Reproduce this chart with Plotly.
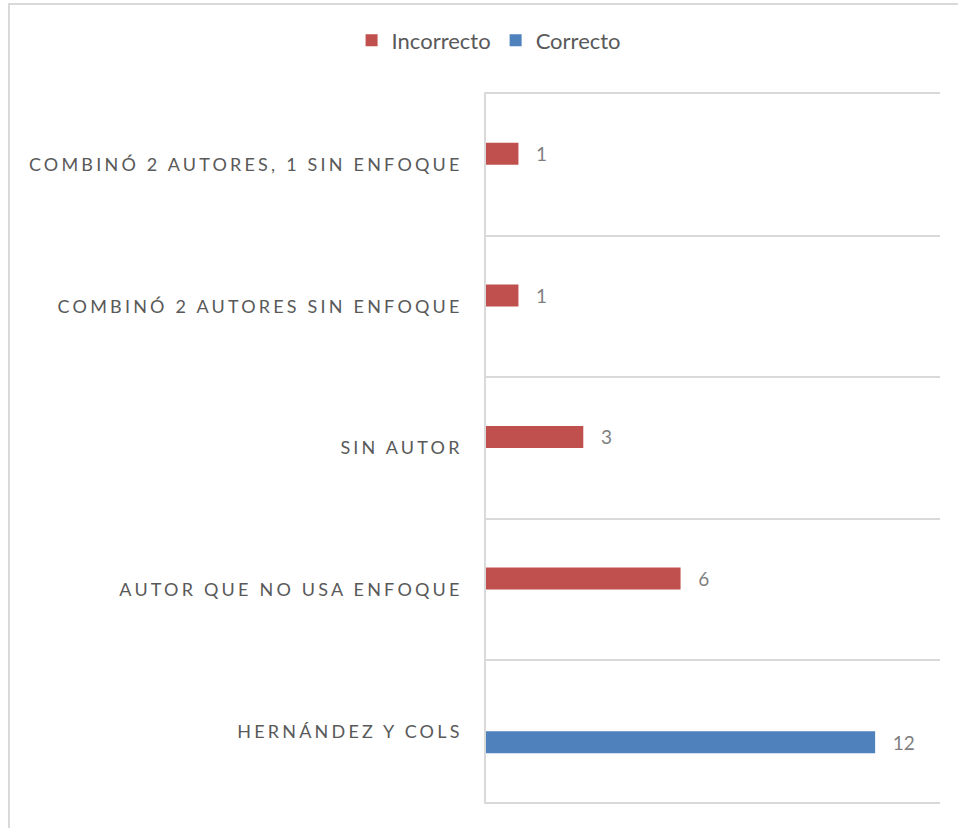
import plotly.graph_objects as go

# categories listed top to bottom, as in the chart
categorias = [
    "COMBINÓ 2 AUTORES, 1 SIN ENFOQUE",
    "COMBINÓ 2 AUTORES SIN ENFOQUE",
    "SIN AUTOR",
    "AUTOR QUE NO USA ENFOQUE",
    "HERNÁNDEZ Y COLS",
]
incorrecto = [1, 1, 3, 6, None]
correcto = [None, None, None, None, 12]

GRIS = "#595959"
LINEA = "#d9d9d9"
FUENTE = "Lato"

fig = go.Figure()
fig.add_trace(go.Bar(
    name="Incorrecto", y=categorias, x=incorrecto, orientation="h",
    marker=dict(color="#c0504d", line=dict(width=0)),
    texttemplate="\u00a0\u00a0\u00a0%{x}", textposition="outside",
    constraintext="none", cliponaxis=False,
    textfont=dict(family=FUENTE, size=19, color="#7f7f7f"),
    hoverinfo="skip",
))
fig.add_trace(go.Bar(
    name="Correcto", y=categorias, x=correcto, orientation="h",
    marker=dict(color="#4f81bd", line=dict(width=0)),
    texttemplate="\u00a0\u00a0\u00a0%{x}", textposition="outside",
    constraintext="none", cliponaxis=False,
    textfont=dict(family=FUENTE, size=19, color="#7f7f7f"),
    hoverinfo="skip",
))

fig.update_layout(
    width=958, height=828,
    paper_bgcolor="white", plot_bgcolor="white",
    margin=dict(l=486, r=18, t=94, b=26),
    barmode="group", bargap=0.689, bargroupgap=0,
    font=dict(family=FUENTE, color=GRIS),
    legend=dict(
        orientation="h", xref="container", yref="container",
        x=0.51, xanchor="center", y=0.951, yanchor="middle",
        font=dict(family=FUENTE, size=22, color=GRIS),
    ),
    xaxis=dict(
        range=[0, 14], showgrid=False, showticklabels=False, zeroline=False,
        showline=True, linecolor=LINEA, linewidth=1.5, mirror=True, ticks="",
    ),
    yaxis=dict(
        range=[4.5, -0.5], type="category", tickson="boundaries",
        showgrid=True, gridcolor=LINEA, gridwidth=1.5,
        showline=True, linecolor=LINEA, linewidth=1.5, ticks="",
        ticklabelstandoff=18,
        tickfont=dict(family=FUENTE, size=18, color=GRIS),
    ),
)

# chart border (partly cut off, as in the original picture)
fig.add_shape(
    type="rect", xref="paper", yref="paper",
    x0=-1.0507, x1=1.2, y0=-0.1, y1=1.1271,
    line=dict(color=LINEA, width=2), layer="below",
)

ajustes = """
document.body.style.margin = '0';
var gd = document.getElementById('{plot_id}');
gd.querySelectorAll('g.ytick text').forEach(function(t){ t.style.letterSpacing = '3.2px'; });
"""

fig.write_html("out.html", post_script=ajustes, config={"displayModeBar": False})
